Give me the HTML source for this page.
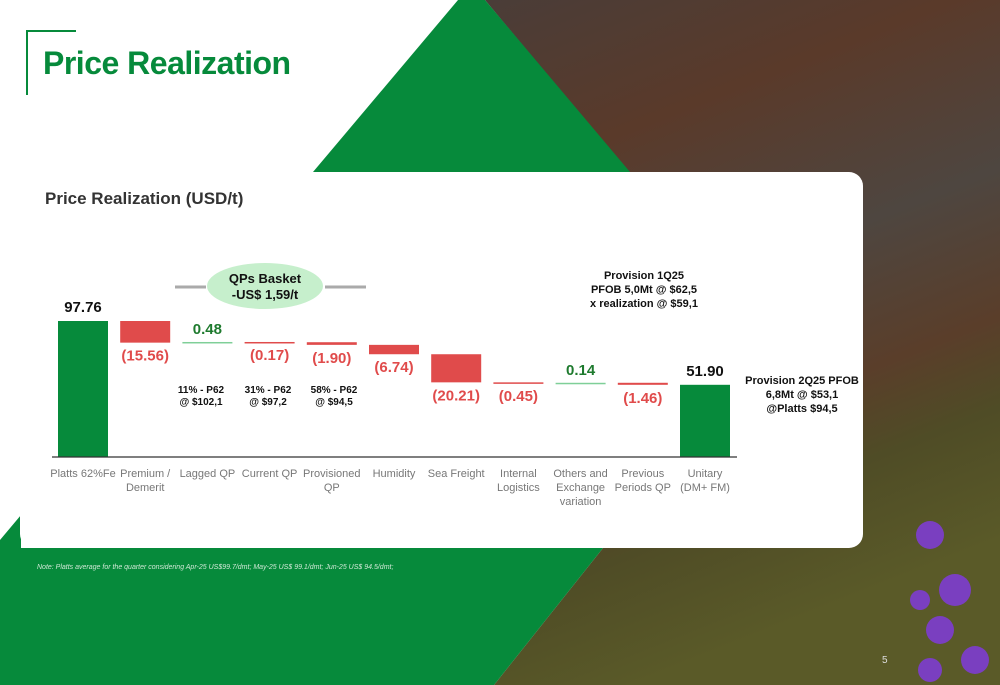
<!DOCTYPE html>
<html><head><meta charset="utf-8"><style>
html,body{margin:0;padding:0;}
body{width:1000px;height:685px;position:relative;overflow:hidden;background:#fff;font-family:"Liberation Sans",sans-serif;}
</style></head><body>
<svg width="1000" height="685" style="position:absolute;left:0;top:0">
<defs>
<linearGradient id="mine" x1="0" y1="0" x2="0.3" y2="1">
<stop offset="0" stop-color="#4a3d38"/><stop offset="0.25" stop-color="#5a3a2a"/><stop offset="0.5" stop-color="#4e4640"/><stop offset="0.7" stop-color="#5a3e2a"/><stop offset="0.82" stop-color="#4f4c26"/><stop offset="1" stop-color="#5a5a28"/>
</linearGradient>
</defs>
<polygon points="485,0 1000,0 1000,685 494,685 603,548 628,172" fill="url(#mine)"/>
<polygon points="458,0 485,0 630,172 313,172" fill="#068a3b"/>
<polygon points="21,515 21,548 603,548 494,685 0,685 0,540" fill="#068a3b"/>
<g fill="#7a3fc0">
<circle cx="930" cy="535" r="14"/><circle cx="955" cy="590" r="16"/><circle cx="940" cy="630" r="14"/><circle cx="920" cy="600" r="10"/><circle cx="975" cy="660" r="14"/><circle cx="930" cy="670" r="12"/>
</g>
<path d="M27 95 V31 H76" fill="none" stroke="#068a3b" stroke-width="2"/>
</svg>
<div style="position:absolute;left:43px;top:45px;font-size:32px;font-weight:bold;color:#068a3b;letter-spacing:-0.5px">Price Realization</div>
<div style="position:absolute;left:20px;top:172px;width:843px;height:376px;background:#fff;border-radius:14px"></div>
<div style="position:absolute;left:45px;top:189px;font-size:17px;font-weight:bold;color:#333">Price Realization (USD/t)</div>
<div style="position:absolute;left:37px;top:564px;font-size:7px;font-style:italic;color:#cfe8d5">Note: Platts average for the quarter considering Apr-25 US$99.7/dmt; May-25 US$ 99.1/dmt;  Jun-25 US$ 94.5/dmt;</div>
<div style="position:absolute;left:882px;top:655px;font-size:10px;color:#ddd">5</div>
<svg id="chart" width="1000" height="685" style="position:absolute;left:0;top:0"></svg>
<script>
const categories = [["Platts 62%Fe"],["Premium /","Demerit"],["Lagged QP"],["Current QP"],["Provisioned","QP"],["Humidity"],["Sea Freight"],["Internal","Logistics"],["Others and","Exchange","variation"],["Previous","Periods QP"],["Unitary","(DM+ FM)"]];
const values = [97.76,-15.56,0.48,-0.17,-1.90,-6.74,-20.21,-0.45,0.14,-1.46,51.90];
const kinds = ["total","delta","delta","delta","delta","delta","delta","delta","delta","delta","total"];
const labels = ["97.76","(15.56)","0.48","(0.17)","(1.90)","(6.74)","(20.21)","(0.45)","0.14","(1.46)","51.90"];
const svg = document.getElementById('chart');
const NS = 'http://www.w3.org/2000/svg';
const base = 457, scale = 136/97.76;
const y = v => base - v*scale;
const xc = i => 83 + i*62.2;
const bw = 50;
function add(tag, attrs, text){const e=document.createElementNS(NS,tag);for(const k in attrs)e.setAttribute(k,attrs[k]);if(text!=null)e.textContent=text;svg.appendChild(e);return e;}
let cum = 0;
values.forEach((v,i)=>{
  let top, bot, color, lblY, lblColor;
  if(kinds[i]==='total'){ top=y(v); bot=base; color='#068a3b'; cum=v; lblY=top-9; lblColor='#111'; }
  else { const a=cum, b=cum+v; cum=b; top=y(Math.max(a,b)); bot=y(Math.min(a,b)); 
    if(v>=0){color='#7fcf98'; lblY=top-8; lblColor='#1e7a2e';} else {color='#e04b4b'; lblY=bot+18; lblColor='#e04b4b';} }
  const h=Math.max(bot-top,1.5);
  const r=add('rect',{x:xc(i)-bw/2,y:top,width:bw,height:h,fill:color});
  
  
  const t=add('text',{x:xc(i),y:lblY,'text-anchor':'middle','font-size':15,'font-weight':'bold',fill:lblColor},labels[i]);
  
  
  categories[i].forEach((ln,j)=>{
    const c=add('text',{x:xc(i),y:477+j*14,'text-anchor':'middle','font-size':11,fill:'#777'},ln);
    
    
  });
});
const ax=add('line',{x1:52,y1:base,x2:737,y2:base,stroke:'#333','stroke-width':1.2});


</script>
<svg width="1000" height="685" style="position:absolute;left:0;top:0;font-family:'Liberation Sans',sans-serif">
<line x1="175" y1="287" x2="206" y2="287" stroke="#aaa" stroke-width="3"/>
<line x1="325" y1="287" x2="366" y2="287" stroke="#aaa" stroke-width="3"/>
<ellipse cx="265" cy="286" rx="58" ry="23" fill="#c6efcc"/>
<text x="265" y="283" text-anchor="middle" font-size="13" font-weight="bold" fill="#111">QPs Basket</text>
<text x="265" y="299" text-anchor="middle" font-size="13" font-weight="bold" fill="#111">-US$ 1,59/t</text>
<g font-size="10" font-weight="bold" fill="#111" text-anchor="middle">
<text x="201" y="393">11% - P62</text><text x="201" y="405">@ $102,1</text>
<text x="268" y="393">31% - P62</text><text x="268" y="405">@ $97,2</text>
<text x="334" y="393">58% - P62</text><text x="334" y="405">@ $94,5</text>
</g>
<g font-size="11" font-weight="bold" fill="#111" text-anchor="middle">
<text x="644" y="279">Provision 1Q25</text><text x="644" y="293">PFOB 5,0Mt @ $62,5</text><text x="644" y="307">x realization @ $59,1</text>
</g>
<g font-size="11" font-weight="bold" fill="#111" text-anchor="middle">
<text x="802" y="384">Provision 2Q25 PFOB</text><text x="802" y="398">6,8Mt @ $53,1</text><text x="802" y="412">@Platts $94,5</text>
</g>
</svg>
</body></html>
